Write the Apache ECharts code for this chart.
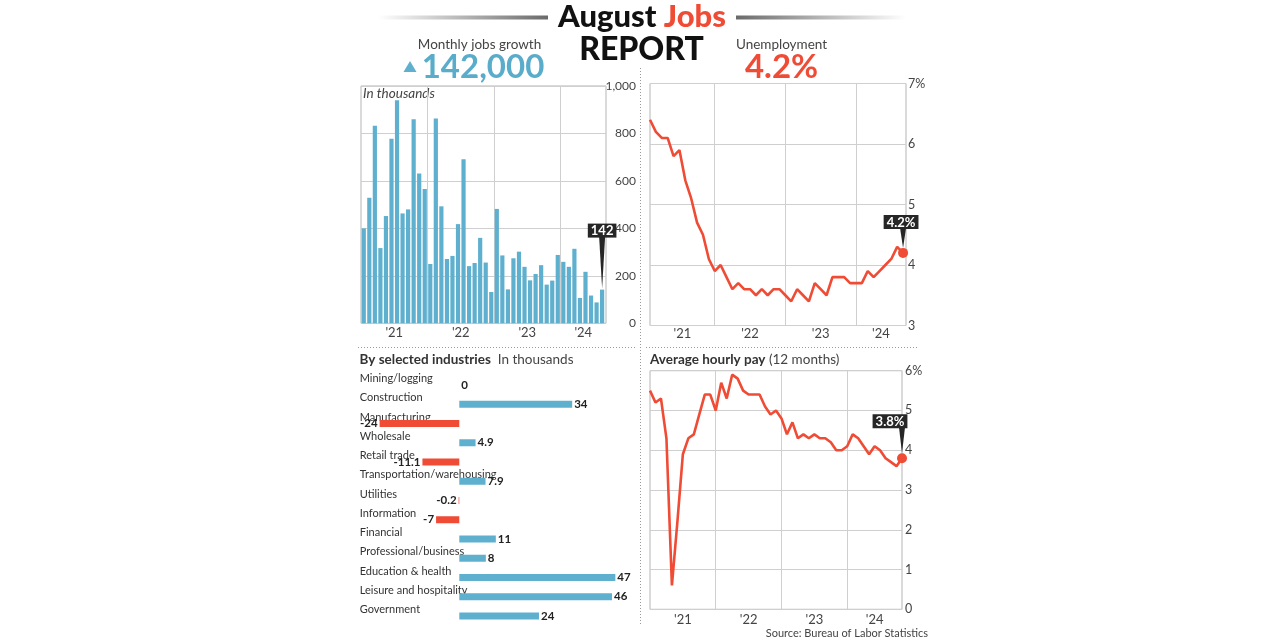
<!DOCTYPE html>
<html><head><meta charset="utf-8">
<script src="https://cdn.jsdelivr.net/npm/echarts@6/dist/echarts.min.js"></script>
<style>html,body{margin:0;padding:0;background:#fff}#c{width:1280px;height:640px}</style>
</head><body><div id="c"></div>
<script>
// ---------- DATA ----------
const yearLabels = ["'21", "'22", "'23", "'24"];
// Monthly jobs growth, thousands (Jan 2021 – Aug 2024)
const jobsGrowth = [400,529,832,317,452,778,940,463,480,860,631,566,
                    250,863,493,271,284,418,691,241,254,360,256,132,
                    482,286,143,274,302,238,181,208,245,163,180,288,
                    259,238,314,107,217,117,88,142];
// Unemployment rate, % (Jan 2021 – Aug 2024)
const unemployment = [6.4,6.2,6.1,6.1,5.8,5.9,5.4,5.1,4.7,4.5,4.1,3.9,
                      4.0,3.8,3.6,3.7,3.6,3.6,3.5,3.6,3.5,3.6,3.6,3.5,
                      3.4,3.6,3.5,3.4,3.7,3.6,3.5,3.8,3.8,3.8,3.7,3.7,
                      3.7,3.9,3.8,3.9,4.0,4.1,4.3,4.2];
// Average hourly pay, 12-month change, %
const hourlyPay = [5.5,5.2,5.3,4.3,0.6,2.2,3.9,4.3,4.4,4.9,5.4,5.4,
                   5.0,5.7,5.3,5.9,5.8,5.5,5.4,5.4,5.4,5.1,4.9,5.0,
                   4.8,4.4,4.7,4.3,4.4,4.3,4.4,4.3,4.3,4.2,4.0,4.0,
                   4.1,4.4,4.3,4.1,3.9,4.1,4.0,3.8,3.7,3.6,3.8];
const industries = ['Mining/logging','Construction','Manufacturing','Wholesale','Retail trade',
  'Transportation/warehousing','Utilities','Information','Financial','Professional/business',
  'Education & health','Leisure and hospitality','Government'];
const industryChange = [0,34,-24,4.9,-11.1,7.9,-0.2,-7,11,8,47,46,24];
const headline = { jobs: '142,000', unemployment: '4.2%', jobsLabel: '142', unempLabel: '4.2%', payLabel: '3.8%' };

// ---------- STYLE ----------
const BLUE = '#5fb0cf', RED = '#ef4b35', TXT = '#444', GRID = '#cfcfcf', FRAME = '#b5b5b5';
const FONT = 'Lato';

function yearAxis(gridIndex, min, max, splitAt, labelAt, margin) {
  return {
    type: 'value', gridIndex, min, max,
    axisLine: { show: false },
    axisTick: { show: false, customValues: splitAt },
    splitLine: { show: true, lineStyle: { color: GRID, width: 1 } },
    axisLabel: {
      customValues: labelAt, margin, color: TXT, fontSize: 13, fontFamily: FONT,
      formatter: v => { const i = labelAt.findIndex(p => Math.abs(p - v) < 1e-6); return i >= 0 ? yearLabels[i] : ''; }
    }
  };
}

function callout(coord, text, pointerLen, labelOffsetX, gap) {
  return {
    silent: true,
    symbol: 'path://M0,0 L10,0 L5,40 Z',
    symbolKeepAspect: false,
    symbolSize: [6, pointerLen],
    symbolOffset: [0, -(pointerLen / 2 + gap)],
    itemStyle: { color: '#262626' },
    label: {
      show: true, position: 'top', distance: 0, formatter: text,
      backgroundColor: '#262626', color: '#fff', fontFamily: FONT, fontWeight: 'bold',
      fontSize: 13, padding: [1, 3, 0, 3], offset: [labelOffsetX, 1]
    },
    data: [{ coord }]
  };
}

const lastJ = jobsGrowth.length - 1, lastU = unemployment.length - 1, lastP = hourlyPay.length - 1;

const option = {
  animation: false,
  textStyle: { fontFamily: FONT },
  grid: [
    { left: 361, top: 86, width: 245, height: 237.3, show: true, borderColor: FRAME, borderWidth: 1 },
    { left: 650, top: 83.5, width: 256, height: 242, show: true, borderColor: FRAME, borderWidth: 1 },
    { left: 359.7, top: 375.4, width: 265.6, height: 250.2, show: false },
    { left: 650, top: 370.7, width: 252, height: 238.6, show: true, borderColor: FRAME, borderWidth: 1 }
  ],
  xAxis: [
    yearAxis(0, -0.5, 43.7, [11.5, 23.5, 35.5], [5.5, 17.5, 29.5, 39.6], 3),
    yearAxis(1, 0, 43.5, [11, 23, 35], [5.5, 17, 29, 39.25], 2),
    { type: 'value', gridIndex: 2, min: -30, max: 50, show: false, splitLine: { show: false } },
    yearAxis(3, 0, 46, [12, 24, 36], [6, 18, 30, 41], 4)
  ],
  yAxis: [
    { type: 'value', gridIndex: 0, position: 'right', min: 0, max: 1000, interval: 200,
      axisLine: { show: false }, axisTick: { show: false },
      splitLine: { lineStyle: { color: GRID } },
      axisLabel: { color: TXT, fontSize: 12, fontFamily: FONT, align: 'right', margin: 30,
                   formatter: v => v.toLocaleString('en-US') } },
    { type: 'value', gridIndex: 1, position: 'right', min: 3, max: 7, interval: 1,
      axisLine: { show: false }, axisTick: { show: false },
      splitLine: { lineStyle: { color: GRID } },
      axisLabel: { color: TXT, fontSize: 12.5, fontFamily: FONT, align: 'left', margin: 2,
                   formatter: v => v === 7 ? '7%' : String(v) } },
    { type: 'category', gridIndex: 2, inverse: true, data: industries,
      axisLine: { show: false, onZero: false }, axisTick: { show: false }, splitLine: { show: false },
      axisLabel: { inside: true, margin: 0, align: 'left', verticalAlign: 'bottom', padding: [0, 0, 1, 0],
                   color: '#333', fontSize: 11, fontFamily: FONT } },
    { type: 'value', gridIndex: 3, position: 'right', min: 0, max: 6, interval: 1,
      axisLine: { show: false }, axisTick: { show: false },
      splitLine: { lineStyle: { color: GRID } },
      axisLabel: { color: TXT, fontSize: 12.5, fontFamily: FONT, align: 'left', margin: 3,
                   formatter: v => v === 6 ? '6%' : String(v) } }
  ],
  series: [
    { type: 'bar', xAxisIndex: 0, yAxisIndex: 0, barWidth: 4.2,
      itemStyle: { color: BLUE },
      data: jobsGrowth.map((v, i) => [i, v]),
      markPoint: callout([lastJ, jobsGrowth[lastJ]], headline.jobsLabel, 52, 0, 1) },
    { type: 'line', xAxisIndex: 1, yAxisIndex: 1, symbol: 'none',
      lineStyle: { color: RED, width: 2.6 }, itemStyle: { color: RED },
      data: unemployment.map((v, i) => i === lastU ? { value: [i, v], symbol: 'circle', symbolSize: 10 } : [i, v]),
      markPoint: callout([lastU, unemployment[lastU]], headline.unempLabel, 20, -2, 5) },
    { type: 'bar', xAxisIndex: 2, yAxisIndex: 2, barWidth: 7,
      data: industryChange.map(v => ({
        value: v,
        itemStyle: { color: v < 0 ? RED : BLUE },
        label: { position: v < 0 ? 'left' : 'right' }
      })),
      label: { show: true, distance: 2, color: '#222', fontSize: 11.5, fontWeight: 'bold', fontFamily: FONT,
               formatter: p => String(p.value) } },
    { type: 'line', xAxisIndex: 3, yAxisIndex: 3, symbol: 'none',
      lineStyle: { color: RED, width: 2.6 }, itemStyle: { color: RED },
      data: hourlyPay.map((v, i) => i === lastP ? { value: [i, v], symbol: 'circle', symbolSize: 10 } : [i, v]),
      markPoint: callout([lastP, hourlyPay[lastP]], headline.payLabel, 26, -12, 5) }
  ],
  graphic: [
    // title decoration bars
    { type: 'rect', shape: { x: 378, y: 15.5, width: 170, height: 4 },
      style: { fill: { type: 'linear', x: 0, y: 0, x2: 1, y2: 0,
        colorStops: [{ offset: 0, color: 'rgba(110,110,110,0)' }, { offset: 1, color: '#6a6a6a' }] } } },
    { type: 'rect', shape: { x: 736, y: 15.5, width: 170, height: 4 },
      style: { fill: { type: 'linear', x: 0, y: 0, x2: 1, y2: 0,
        colorStops: [{ offset: 0, color: '#6a6a6a' }, { offset: 1, color: 'rgba(110,110,110,0)' }] } } },
    { type: 'text', x: 642, y: 17, style: { text: '{a|August }{b|Jobs}', align: 'center', verticalAlign: 'middle',
      rich: { a: { fontFamily: FONT, fontWeight: 900, fontSize: 31, fill: '#111' },
              b: { fontFamily: FONT, fontWeight: 900, fontSize: 31, fill: RED } } } },
    { type: 'text', x: 641.5, y: 50, style: { text: 'REPORT', align: 'center', verticalAlign: 'middle',
      fontFamily: FONT, fontWeight: 900, fontSize: 32, fill: '#111' } },
    { type: 'text', x: 479.5, y: 45, style: { text: 'Monthly jobs growth', align: 'center', verticalAlign: 'middle',
      fontFamily: FONT, fontSize: 13.5, fill: TXT } },
    { type: 'polygon', shape: { points: [[403.5, 72], [416.5, 72], [410, 61]] }, style: { fill: BLUE } },
    { type: 'text', x: 483, y: 67, style: { text: headline.jobs, align: 'center', verticalAlign: 'middle',
      fontFamily: FONT, fontWeight: 'bold', fontSize: 33, fill: '#5aaccb' } },
    { type: 'text', x: 781.5, y: 45, style: { text: 'Unemployment', align: 'center', verticalAlign: 'middle',
      fontFamily: FONT, fontSize: 13.5, fill: TXT } },
    { type: 'text', x: 781.5, y: 67, style: { text: headline.unemployment, align: 'center', verticalAlign: 'middle',
      fontFamily: FONT, fontWeight: 'bold', fontSize: 33, fill: RED } },
    // panel labels
    { type: 'text', x: 363, y: 93.5, style: { text: 'In thousands', align: 'left', verticalAlign: 'middle',
      fontFamily: FONT, fontStyle: 'italic', fontSize: 13.5, fill: TXT } },
    { type: 'text', x: 359.5, y: 360, style: { text: '{a|By selected industries}{b|  In thousands}', align: 'left', verticalAlign: 'middle',
      rich: { a: { fontFamily: FONT, fontWeight: 'bold', fontSize: 13.5, fill: '#333' },
              b: { fontFamily: FONT, fontSize: 13.5, fill: TXT } } } },
    { type: 'text', x: 650, y: 360, style: { text: '{a|Average hourly pay}{b| (12 months)}', align: 'left', verticalAlign: 'middle',
      rich: { a: { fontFamily: FONT, fontWeight: 'bold', fontSize: 13.5, fill: '#333' },
              b: { fontFamily: FONT, fontSize: 13.5, fill: TXT } } } },
    { type: 'text', x: 928, y: 633, style: { text: 'Source: Bureau of Labor Statistics', align: 'right', verticalAlign: 'middle',
      fontFamily: FONT, fontSize: 11, fill: TXT } },
    // dotted separators
    { type: 'line', shape: { x1: 640.5, y1: 68, x2: 640.5, y2: 626 }, style: { stroke: '#9a9a9a', lineWidth: 1, lineDash: [1, 2] } },
    { type: 'line', shape: { x1: 358, y1: 347.5, x2: 636, y2: 347.5 }, style: { stroke: '#9a9a9a', lineWidth: 1, lineDash: [1, 2] } },
    { type: 'line', shape: { x1: 646, y1: 347.5, x2: 919, y2: 347.5 }, style: { stroke: '#9a9a9a', lineWidth: 1, lineDash: [1, 2] } }
  ]
};

const chart = echarts.init(document.getElementById('c'), null, { renderer: 'canvas' });
chart.setOption(option);
</script></body></html>
